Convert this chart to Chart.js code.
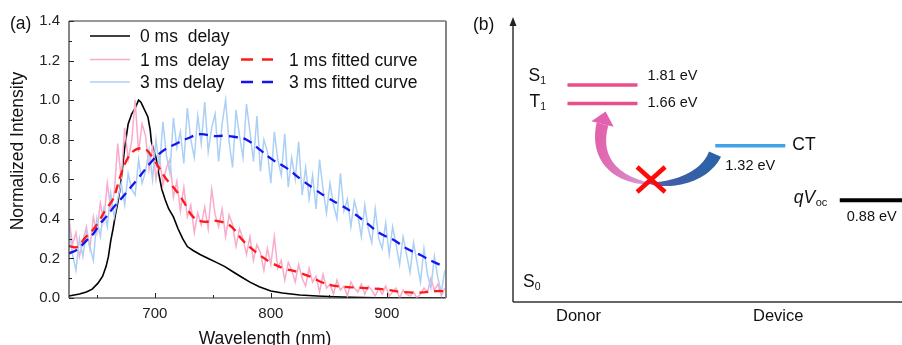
<!DOCTYPE html>
<html>
<head>
<meta charset="utf-8">
<script src="https://cdn.jsdelivr.net/npm/chart.js@4.4.1/dist/chart.umd.min.js"></script>
<style>
html, body { margin: 0; padding: 0; background: #fff; overflow: hidden; }
#wrap { position: relative; width: 902px; height: 345px; }
#grafA { position: absolute; left: 0; top: 0; }
#grafB { position: absolute; left: 460px; top: 0; }
</style>
</head>
<body>
<div id="wrap">
  <canvas id="grafA" width="460" height="345"></canvas>
  <canvas id="grafB" width="442" height="345"></canvas>
</div>
<script>
// ---- painel (a): espectros ----
const wlRuido = [626,629,632,635,638,641,644,647,650,653,656,659,662,665,668,671,674,677,680,683,
  686,689,692,695,698,701,704,707,710,713,716,719,722,725,728,731,734,737,740,743,
  746,749,752,755,758,761,764,767,770,773,776,779,782,785,788,791,794,797,800,803,
  806,809,812,815,818,821,824,827,830,833,836,839,842,845,848,851,854,857,860,863,
  866,869,872,875,878,881,884,887,890,893,896,899,902,905,908,911,914,917,920,923,
  926,929,932,935,938,941,944,947,950];
const delay1ms = [.40,.27,.33,.21,.29,.36,.25,.41,.33,.48,
  .39,.58,.45,.53,.78,.60,.86,.70,.79,1.0,
  .74,.88,.82,.65,.77,.60,.71,.57,.66,.70,
  .51,.59,.44,.56,.41,.47,.33,.43,.37,.46,
  .35,.55,.42,.36,.45,.31,.42,.37,.26,.35,
  .30,.22,.31,.19,.27,.23,.14,.25,.17,.31,
  .15,.19,.09,.18,.14,.08,.17,.10,.06,.15,
  .08,.11,.03,.12,.05,.07,.02,.09,.04,.06,
  .01,.08,.05,.03,.07,.02,.06,.04,.01,.05,
  .02,.06,.01,.03,.05,.00,.04,.02,.01,.03,
  .00,.02,.05,.03,.10,.04,.07,.01,.05];
const delay3ms = [.36,.22,.14,.30,.21,.34,.26,.19,.40,.31,
  .45,.36,.53,.41,.50,.58,.47,.63,.55,.52,
  .70,.58,.64,.75,.60,.80,.66,.89,.72,.63,
  .91,.76,.84,.68,.96,.80,.71,.92,.78,.99,
  .74,.86,.93,.69,.88,1.0,.79,.66,.95,.82,
  .71,.98,.84,.69,.92,.64,.80,.74,.58,.84,
  .70,.62,.83,.56,.71,.60,.79,.52,.66,.50,
  .62,.45,.70,.55,.43,.58,.47,.40,.63,.44,
  .50,.36,.49,.42,.31,.47,.35,.28,.45,.30,
  .25,.38,.22,.36,.27,.17,.31,.22,.13,.28,
  .18,.08,.25,.12,.05,.21,.10,.03,.14];

const wl0ms = [626,635,641,646,651,655,658,660,662,664,666,668,670,672,674,677,680,683,686,688,
  690,692,694,696,697,699,701,703,706,709,712,716,720,724,728,733,739,746,753,760,
  768,775,782,790,800,810,825,840,855,870,890,950];
const delay0ms = [.01,.02,.03,.045,.075,.11,.16,.21,.29,.35,.42,.48,.55,.65,.76,.88,.93,.96,1.0,.99,
  .965,.94,.915,.85,.79,.75,.71,.64,.55,.495,.45,.41,.35,.30,.26,.24,.22,.20,.18,.16,
  .13,.105,.08,.057,.035,.025,.015,.01,.006,.003,.001,0];

const wlFit1 = [626,633,640,646,652,658,664,670,676,682,688,693,699,704,710,716,724,733,742,753,
  765,776,788,799,811,822,834,845,857,871,885,897,911,926,943,950];
const fit1ms = [.262,.258,.305,.34,.39,.45,.50,.61,.70,.745,.757,.748,.70,.655,.60,.56,.495,.41,.386,.39,
  .365,.29,.228,.183,.15,.133,.108,.077,.06,.054,.049,.044,.032,.027,.035,.035];
const wlFit3 = [626,633,641,647,652,658,664,670,675,680,685,691,698,704,710,716,728,739,751,760,
  768,779,791,802,814,825,837,848,860,871,883,894,906,917,929,940,950];
const fit3ms = [.225,.245,.29,.325,.37,.41,.455,.495,.53,.565,.60,.645,.695,.73,.755,.773,.806,.828,.818,.82,
  .815,.80,.747,.697,.655,.604,.553,.51,.47,.43,.377,.327,.293,.25,.217,.183,.158];

const xTicks = [700, 800, 900];
const xTicksMenor = [650, 700, 750, 800, 850, 900];
const yTicks = [0, 0.2, 0.4, 0.6, 0.8, 1.0, 1.2, 1.4];

// ---- painel (b): níveis de energia ----
const niveis = ['S1', 'T1', 'CT', 'qVoc'];
const energias = [1.81, 1.66, 1.32, 0.88];
const rotulosEnergia = ['1.81 eV', '1.66 eV', '1.32 eV', '0.88 eV'];
const colunas = ['Donor', 'Device'];

const fonte = "'Liberation Sans', Arial, sans-serif";
const pontos = (xs, ys) => xs.map((x, i) => ({ x: x, y: ys[i] }));

function linha(ctx, x1, y1, x2, y2) {
    ctx.beginPath();
    ctx.moveTo(x1, y1);
    ctx.lineTo(x2, y2);
    ctx.stroke();
}

// moldura, ticks para dentro, legenda e titulos do painel (a)
const extrasA = {
    id: 'extrasA',
    afterDraw(chart) {
        const { ctx, chartArea: ca, scales: { x, y } } = chart;
        ctx.save();
        ctx.strokeStyle = '#222';
        ctx.lineWidth = 1;
        xTicksMenor.forEach(v => {
            const px = Math.round(x.getPixelForValue(v)) + 0.5;
            linha(ctx, px, ca.bottom, px, ca.bottom - (xTicks.includes(v) ? 5 : 3));
        });
        for (let i = 0; i <= 14; i++) {
            const py = Math.round(y.getPixelForValue(i / 10)) + 0.5;
            linha(ctx, ca.left, py, ca.left + (i % 2 === 0 ? 5 : 3), py);
        }
        // moldura
        ctx.strokeStyle = '#333';
        ctx.lineWidth = 1.2;
        linha(ctx, ca.left, ca.top, ca.right, ca.top);
        linha(ctx, ca.left, ca.top, ca.left, ca.bottom);
        linha(ctx, ca.left, ca.bottom, ca.right, ca.bottom);
        ctx.strokeStyle = '#777';
        ctx.lineWidth = 1.8;
        linha(ctx, ca.right, ca.top, ca.right, ca.bottom);

        // legenda em duas colunas
        const pos = [[90, 36, 130, 140], [90, 59.5, 130, 140], [90, 82, 130, 140],
                     [241, 59.5, 273, 289], [241, 82, 273, 289]];
        ctx.font = '17.5px ' + fonte;
        ctx.textBaseline = 'alphabetic';
        chart.data.datasets.forEach((ds, i) => {
            const [x1, yy, x2, xt] = pos[i];
            ctx.strokeStyle = ds.borderColor;
            ctx.lineWidth = ds.borderWidth;
            ctx.setLineDash(ds.borderDash ? [12, 9] : []);
            linha(ctx, x1, yy, x2, yy);
            ctx.setLineDash([]);
            ctx.fillStyle = '#111';
            ctx.fillText(ds.label, xt, yy + 6.3);
        });

        // titulos
        ctx.fillStyle = '#111';
        ctx.font = '17.5px ' + fonte;
        ctx.fillText('(a)', 10, 29);
        ctx.textAlign = 'center';
        ctx.fillText('Wavelength (nm)', 265, 344);
        ctx.translate(18, 151);
        ctx.rotate(-Math.PI / 2);
        ctx.textBaseline = 'middle';
        ctx.fillText('Normalized Intensity', 0, 0);
        ctx.restore();
    }
};

new Chart(document.getElementById('grafA'), {
    type: 'line',
    data: {
        datasets: [
            { label: '0 ms  delay', data: pontos(wl0ms, delay0ms), borderColor: '#000', borderWidth: 1.6, order: 5 },
            { label: '1 ms  delay', data: pontos(wlRuido, delay1ms), borderColor: '#f8abcb', borderWidth: 1.5, order: 4 },
            { label: '3 ms delay', data: pontos(wlRuido, delay3ms), borderColor: '#abd0f6', borderWidth: 1.5, order: 3 },
            { label: '1 ms fitted curve', data: pontos(wlFit1, fit1ms), borderColor: '#ff1a1a', borderWidth: 2.3,
              borderDash: [9, 6], tension: 0.4, order: 2 },
            { label: '3 ms fitted curve', data: pontos(wlFit3, fit3ms), borderColor: '#1414ee', borderWidth: 2.3,
              borderDash: [9, 6], tension: 0.4, order: 1 }
        ]
    },
    options: {
        responsive: false,
        animation: false,
        events: [],
        layout: { padding: { top: 21, right: 14, left: 0, bottom: 0 } },
        elements: { point: { radius: 0 }, line: { tension: 0 } },
        plugins: { legend: { display: false }, tooltip: { enabled: false } },
        scales: {
            x: {
                type: 'linear', min: 626, max: 951,
                grid: { display: false, drawTicks: false },
                border: { display: false },
                afterBuildTicks: s => { s.ticks = xTicks.map(v => ({ value: v })); },
                afterFit: s => { s.height = 47; },
                ticks: { color: '#222', font: { family: fonte, size: 15 }, padding: 7, maxRotation: 0 }
            },
            y: {
                type: 'linear', min: 0, max: 1.4,
                grid: { display: false, drawTicks: false },
                border: { display: false },
                afterBuildTicks: s => { s.ticks = yTicks.map(v => ({ value: v })); },
                afterFit: s => { s.width = 69; },
                ticks: { color: '#222', font: { family: fonte, size: 15 }, padding: 9,
                         callback: v => v.toFixed(1) }
            }
        }
    },
    plugins: [extrasA]
});

// ---- painel (b) ----
// colunas: Donor a esquerda, Device a direita
const spanNivel = { S1: [1.4, 3.2], T1: [1.4, 3.2], CT: [5.2, 7.0], qVoc: [8.4, 10.6] };
const corNivel = { S1: '#ea4f8c', T1: '#ea4f8c', CT: '#42a2e8', qVoc: '#000' };

function texto(ctx, str, x, y, size, italic) {
    ctx.font = (italic ? 'italic ' : '') + size + 'px ' + fonte;
    ctx.fillText(str, x, y);
    return x + ctx.measureText(str).width;
}

const extrasB = {
    id: 'extrasB',
    afterDraw(chart) {
        const { ctx, chartArea: ca, scales: { x, y } } = chart;
        ctx.save();
        // eixos
        ctx.strokeStyle = '#333';
        ctx.lineWidth = 1.5;
        linha(ctx, ca.left, ca.bottom, ca.left, ca.top + 6);
        linha(ctx, ca.left, ca.bottom, ca.right, ca.bottom);
        ctx.fillStyle = '#222';
        ctx.beginPath();
        ctx.moveTo(ca.left, ca.top - 1);
        ctx.lineTo(ca.left - 3.5, ca.top + 8);
        ctx.lineTo(ca.left + 3.5, ca.top + 8);
        ctx.closePath();
        ctx.fill();

        // seta curva CT -> T1 (bloqueada): duas pontas finas que se encontram sob o X
        const ctrl = [[5.193, 1.253], [4.679, 0.883], [1.851, 0.923], [2.301, 1.495]]
            .map(([a, b]) => [x.getPixelForValue(a), y.getPixelForValue(b)]);
        const bez = (t, k) => {
            const m = 1 - t;
            return m * m * m * ctrl[0][k] + 3 * m * m * t * ctrl[1][k] + 3 * m * t * t * ctrl[2][k] + t * t * t * ctrl[3][k];
        };
        const dbez = (t, k) => {
            const m = 1 - t;
            return 3 * m * m * (ctrl[1][k] - ctrl[0][k]) + 6 * m * t * (ctrl[2][k] - ctrl[1][k]) + 3 * t * t * (ctrl[3][k] - ctrl[2][k]);
        };
        const tMeio = 0.47;
        const larg = t => t < tMeio ? 0.6 + 12.5 * Math.pow((tMeio - t) / tMeio, 0.6)
                                    : 0.6 + 11.5 * Math.pow((t - tMeio) / (1 - tMeio), 0.6);
        const esq = [], dir = [];
        for (let i = 0; i <= 120; i++) {
            const t = i / 120;
            const px = bez(t, 0), py = bez(t, 1);
            const dx = dbez(t, 0), dy = dbez(t, 1);
            const n = Math.hypot(dx, dy);
            const nx = -dy / n, ny = dx / n, w = larg(t) / 2;
            esq.push([px + nx * w, py + ny * w]);
            dir.push([px - nx * w, py - ny * w]);
        }
        const grad = ctx.createLinearGradient(ctrl[3][0], ctrl[3][1], ctrl[0][0], ctrl[0][1]);
        grad.addColorStop(0, '#e262ad');
        grad.addColorStop(0.3, '#dc7fc2');
        grad.addColorStop(0.47, '#d29cd6');
        grad.addColorStop(0.5, '#6c62b0');
        grad.addColorStop(0.72, '#3f5ca7');
        grad.addColorStop(1, '#2c63a6');
        ctx.fillStyle = grad;
        ctx.beginPath();
        esq.forEach((p, i) => i ? ctx.lineTo(p[0], p[1]) : ctx.moveTo(p[0], p[1]));
        dir.reverse().forEach(p => ctx.lineTo(p[0], p[1]));
        ctx.closePath();
        ctx.fill();
        // ponta da seta
        const p3 = ctrl[3];
        let ux = ctrl[3][0] - ctrl[2][0], uy = ctrl[3][1] - ctrl[2][1];
        const un = Math.hypot(ux, uy);
        ux /= un; uy /= un;
        ctx.fillStyle = '#e262ad';
        ctx.beginPath();
        ctx.moveTo(p3[0] + ux * 13, p3[1] + uy * 13);
        ctx.lineTo(p3[0] - uy * 11.5, p3[1] + ux * 11.5);
        ctx.lineTo(p3[0] + uy * 11.5, p3[1] - ux * 11.5);
        ctx.closePath();
        ctx.fill();

        // X vermelho
        const cx = x.getPixelForValue(3.55), cy = y.getPixelForValue(1.048);
        ctx.strokeStyle = '#ff0a0a';
        ctx.lineWidth = 4.5;
        linha(ctx, cx - 14, cy - 12.5, cx + 14, cy + 12.5);
        linha(ctx, cx + 14, cy - 12.5, cx - 14, cy + 12.5);

        // rotulos dos niveis
        ctx.fillStyle = '#111';
        ctx.textBaseline = 'alphabetic';
        const yN = energias.map(e => y.getPixelForValue(e));
        const x0 = n => x.getPixelForValue(spanNivel[n][0]);
        const x1 = n => x.getPixelForValue(spanNivel[n][1]);
        let xs = texto(ctx, 'S', x0('S1') - 39, yN[0] - 4, 17.5);
        texto(ctx, '1', xs, yN[0] - 0.5, 10.5);
        xs = texto(ctx, 'T', x0('T1') - 38, yN[1] + 3, 17.5);
        texto(ctx, '1', xs, yN[1] + 6.5, 10.5);
        texto(ctx, rotulosEnergia[0], x1('S1') + 10, yN[0] - 5, 14.5);
        texto(ctx, rotulosEnergia[1], x1('T1') + 10, yN[1] + 3, 14.5);
        texto(ctx, 'CT', x1('CT') + 7, yN[2] + 4, 17.5);
        texto(ctx, rotulosEnergia[2], x0('CT') + 10, yN[2] + 24.5, 14.5);
        xs = texto(ctx, 'q', x0('qVoc') - 46, yN[3] + 3, 17.5, true);
        xs = texto(ctx, 'V', xs, yN[3] + 3, 17.5, true);
        texto(ctx, 'oc', xs + 0.5, yN[3] + 6, 11);
        texto(ctx, rotulosEnergia[3], x0('qVoc') + 7, yN[3] + 21, 14.5);
        xs = texto(ctx, 'S', ca.left + 10, ca.bottom - 15, 17.5);
        texto(ctx, '0', xs, ca.bottom - 12, 10.5);
        texto(ctx, colunas[0], ca.left + 43, ca.bottom + 19, 16.5);
        texto(ctx, colunas[1], ca.left + 240, ca.bottom + 19, 16.5);
        texto(ctx, '(b)', 13, 29.5, 17.5);
        ctx.restore();
    }
};

new Chart(document.getElementById('grafB'), {
    type: 'line',
    data: {
        datasets: niveis.map((n, i) => ({
            label: n,
            data: spanNivel[n].map(v => ({ x: v, y: energias[i] })),
            borderColor: corNivel[n],
            borderWidth: n === 'qVoc' ? 4 : 3.5,
            borderCapStyle: 'butt'
        }))
    },
    options: {
        responsive: false,
        animation: false,
        events: [],
        layout: { padding: { left: 53, right: 0, top: 18, bottom: 43 } },
        elements: { point: { radius: 0 } },
        plugins: { legend: { display: false }, tooltip: { enabled: false } },
        scales: {
            x: { type: 'linear', min: 0, max: 10, display: false },
            y: { type: 'linear', min: 0.06, max: 2.35, display: false }
        }
    },
    plugins: [extrasB]
});
</script>
</body>
</html>
